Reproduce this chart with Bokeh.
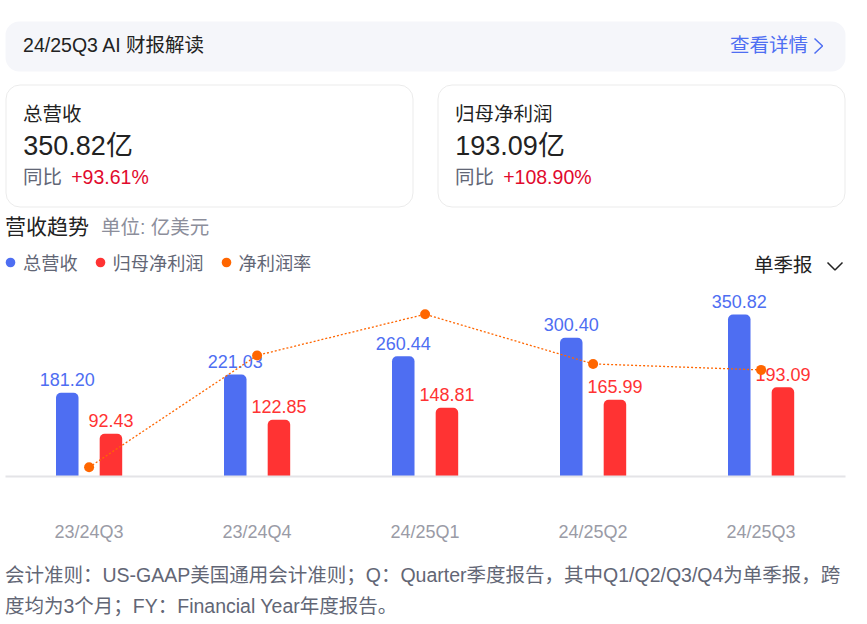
from bokeh.core.properties import value
from bokeh.embed import file_html
from bokeh.resources import INLINE
from bokeh.plotting import figure
from bokeh.models import (BoxAnnotation, Label, LinearAxis, FixedTicker, Range1d,
                          Legend, LegendItem, ColumnDataSource)
from bokeh.transform import dodge

# ---- data ----
quarters = ["23/24Q3", "23/24Q4", "24/25Q1", "24/25Q2", "24/25Q3"]
revenue = [181.20, 221.03, 260.44, 300.40, 350.82]
profit = [92.43, 122.85, 148.81, 165.99, 193.09]
margin = [51.01, 55.49, 57.14, 55.15, 54.91]
revenue_labels = ["181.20", "221.03", "260.44", "300.40", "350.82"]
profit_labels = ["92.43", "122.85", "148.81", "165.99", "193.09"]
series_names = ["总营收", "归母净利润", "净利润率"]

# ---- styles ----
W, H = 867, 624
FONT = "Liberation Sans, Noto Sans CJK SC"
LATIN = "Liberation Sans"
BLUE, RED, ORANGE = "#4e6ef2", "#ff3333", "#ff6600"
INK, GRAY = "#222222", "#626675"
PX_PER_CAT = 168.0
FIRST_X = 88.6
BASE_Y = 476.0
PX_PER_UNIT = 0.4618

x_range = Range1d(-FIRST_X / PX_PER_CAT, (W - FIRST_X) / PX_PER_CAT)
y_range = Range1d(-(H - BASE_Y) / PX_PER_UNIT, BASE_Y / PX_PER_UNIT)

p = figure(width=W, height=H, x_range=x_range, y_range=y_range,
           output_backend="svg", toolbar_location=None,
           x_axis_location=None, y_axis_location=None,
           min_border=0, margin=0,
           outline_line_color=None, background_fill_color="white",
           border_fill_color="white")
p.grid.visible = False
p.extra_y_ranges = {"margin": Range1d(44.71, 69.71)}


def box(l, t, r, b, fill, line, radius):
    p.add_layout(BoxAnnotation(left=l, right=r, top=H - t, bottom=H - b,
                               left_units="screen", right_units="screen",
                               top_units="screen", bottom_units="screen",
                               fill_color=fill, fill_alpha=1 if fill else 0,
                               line_color=line, line_alpha=1 if line else 0, line_width=1,
                               border_radius=radius, level="underlay"))


def text(x, y, s, size, color=INK, align="left", weight="normal"):
    p.add_layout(Label(x=x, y=H - y, x_units="screen", y_units="screen", text=s,
                       text_font=FONT, text_font_size=f"{size}px", text_color=color,
                       text_align=align, text_baseline="alphabetic",
                       text_font_style=weight))


def chevron(px, py, color, width=1.5):
    xs = [(v - FIRST_X) / PX_PER_CAT for v in px]
    ys = [(BASE_Y - v) / PX_PER_UNIT for v in py]
    p.line(xs, ys, line_color=color, line_width=width)


# panels
box(5, 21, 845, 71, "#f5f6fa", None, 14)
box(5.5, 84.5, 412.5, 206.5, "white", "#ebebeb", 14)
box(437.5, 84.5, 844.5, 206.5, "white", "#ebebeb", 14)

# header texts
text(22.6, 44, "24/25Q3 AI 财报解读", 19.5)
text(729.5, 44, "查看详情", 19.5, BLUE)
chevron([814, 822, 814], [38, 45.5, 53], BLUE)

text(22.6, 113, "总营收", 19.5)
text(22.8, 145, "350.82亿", 27)
text(22.6, 176, "同比", 19.5, GRAY)
text(70.7, 176, "+93.61%", 19.5, "#e10a2d")
text(454.6, 113, "归母净利润", 19.5)
text(454.8, 145, "193.09亿", 27)
text(454.6, 176, "同比", 19.5, GRAY)
text(502.7, 176, "+108.90%", 19.5, "#e10a2d")

text(4.5, 226, "营收趋势", 21)
text(100.5, 226, "单位: 亿美元", 19.5, "#8c8e9b")
text(753.5, 264, "单季报", 19.5)
chevron([827, 834.5, 842], [262, 269.5, 262], INK)

# footnote
text(4.5, 574, "会计准则：US-GAAP美国通用会计准则；Q：Quarter季度报告，其中Q1/Q2/Q3/Q4为单季报，跨", 19.5, GRAY)
text(4.5, 605, "度均为3个月；FY：Financial Year年度报告。", 19.5, GRAY)

# ---- chart ----
idx = list(range(len(quarters)))
src = ColumnDataSource(dict(x=idx, rev=revenue, pro=profit, mar=margin,
                            rl=revenue_labels, pl=profit_labels))
OFF, BW = 0.13, 0.134
p.vbar(x=dodge("x", -OFF), top="rev", width=BW, source=src, fill_color=BLUE,
       line_color=None, border_radius=(5, 5, 0, 0))
p.vbar(x=dodge("x", OFF), top="pro", width=BW, source=src, fill_color=RED,
       line_color=None, border_radius=(5, 5, 0, 0))
p.text(x=dodge("x", -OFF), y="rev", text="rl", source=src, y_offset=-13,
       text_font=value(LATIN), text_font_size="18px", text_color=BLUE,
       text_align="center", text_baseline="alphabetic")
p.text(x=dodge("x", OFF), y="pro", text="pl", source=src, y_offset=-13,
       text_font=value(LATIN), text_font_size="18px", text_color=RED,
       text_align="center", text_baseline="alphabetic")
p.line(x="x", y="mar", source=src, y_range_name="margin", line_color=ORANGE,
       line_width=1.3, line_dash=[2, 2])
p.scatter(x="x", y="mar", source=src, y_range_name="margin", size=10,
          fill_color=ORANGE, line_color=None)

axis = LinearAxis(ticker=FixedTicker(ticks=idx), fixed_location=0,
                  major_label_overrides={i: q for i, q in enumerate(quarters)},
                  bounds=(-0.5, 4.5), axis_line_color="#e4e4e7", axis_line_width=2,
                  major_tick_line_color=None, minor_tick_line_color=None,
                  major_label_standoff=39, major_label_text_font=FONT,
                  major_label_text_font_size="18px", major_label_text_color="#9a9ba6")
p.add_layout(axis, "below")

# ---- legend ----
nan = float("nan")
legend_items = []
for name, color in zip(series_names, [BLUE, RED, ORANGE]):
    r = p.scatter([nan], [nan], size=10, fill_color=color, line_color=None)
    legend_items.append(LegendItem(label=name, renderers=[r]))
legend = Legend(items=legend_items, orientation="horizontal", location=(-2, H - 275),
                background_fill_alpha=0, border_line_color=None, margin=0, padding=0,
                glyph_width=24, glyph_height=24, label_standoff=1, spacing=10,
                label_text_font=FONT, label_text_font_size="18.2px", label_text_color=GRAY)
p.add_layout(legend, "center")

open("out.html", "w").write(file_html(p, INLINE))
